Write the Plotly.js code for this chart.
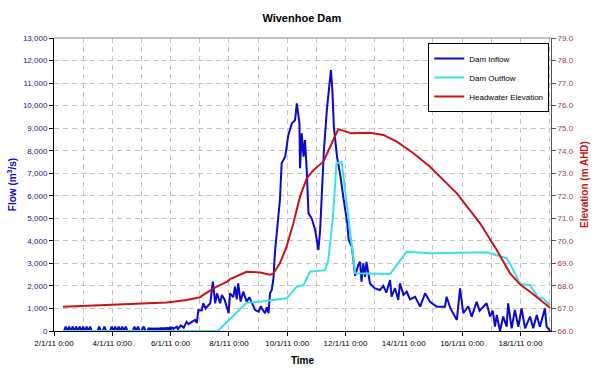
<!DOCTYPE html>
<html>
<head>
<meta charset="utf-8">
<script src="https://cdn.plot.ly/plotly-3.0.1.min.js"></script>
<style>html,body{margin:0;padding:0;background:#fff;}#chart{width:600px;height:373px;}</style>
</head>
<body>
<div id="chart"></div>
<script>
// Time values are in "day of January 2011" (e.g. 2.5 = 2/1/11 12:00)
const inflowDay = [
  2.31,2.34,2.40,2.46,2.52,2.58,2.64,2.70,2.76,2.82,2.88,2.94,3.00,3.06,3.12,3.18,3.24,3.30,3.36,
  3.49,3.55,3.61,3.67,3.73,3.79,
  3.92,3.98,4.04,4.10,4.16,4.22,4.28,4.34,4.40,4.46,4.52,4.58,
  4.70,4.76,4.82,4.88,4.94,5.00,5.08,5.14,5.20,
  5.26,5.30,5.34,5.38,5.42,5.46,5.50,5.54,5.58,5.62,5.66,5.70,5.74,5.78,5.82,5.86,5.90,5.94,5.98,6.02,6.06,
  6.10,6.21,6.25,6.35,6.45,6.55,6.62,6.70,6.84,6.90,6.95,7.07,7.12,7.20,7.36,7.45,7.53,7.59,7.70,7.76,7.85,
  7.99,8.04,8.15,8.21,8.27,8.32,8.40,8.49,8.61,8.70,8.90,9.02,9.10,9.13,9.24,9.30,9.36,9.41,9.47,9.53,9.58,
  9.70,9.75,9.81,9.93,10.04,10.16,10.27,10.33,10.42,10.44,10.50,10.56,10.61,10.67,10.73,10.84,10.96,11.07,
  11.13,11.18,11.26,11.36,11.41,11.50,11.55,11.60,11.71,11.83,11.94,12.06,12.11,12.22,12.33,12.44,12.50,
  12.55,12.61,12.67,12.72,12.84,13.01,13.18,13.30,13.40,13.53,13.58,13.70,13.81,13.87,13.99,14.10,14.21,
  14.39,14.56,14.73,14.90,15.13,15.41,15.47,15.60,15.82,15.93,16.04,16.21,16.33,16.50,16.60,16.84,16.96,
  17.05,17.13,17.19,17.30,17.41,17.53,17.58,17.70,17.81,17.93,18.04,18.16,18.33,18.44,18.56,18.67,18.84,
  18.90,19.02
];
const inflowVal = [
  0,0,200,0,200,0,200,0,200,0,200,0,200,0,200,0,200,0,0,
  0,200,0,0,200,0,
  0,200,0,200,0,200,0,200,0,200,0,0,
  0,200,0,200,0,0,200,0,0,
  140,40,140,40,140,40,140,40,140,40,150,50,150,50,150,60,160,60,150,70,180,
  100,190,80,250,150,410,300,380,490,350,930,910,1230,1000,1230,2190,1230,1670,1230,1600,1400,
  790,1670,1500,1965,1400,2115,1300,1745,1300,1500,930,860,1100,1000,790,1050,790,1670,1820,2350,3500,
  4920,5810,7440,7730,8700,9210,9360,10100,9210,7220,8770,7730,8470,7140,5220,5000,4480,3590,
  4480,5810,8030,9800,10390,11580,10690,9060,7730,6840,5810,4800,4040,3740,2450,2930,3070,
  2190,3000,2400,3070,2110,1890,1820,2000,1700,2260,1520,1900,1380,2110,1600,1750,1400,
  1520,1080,1670,1300,1080,1080,1520,1000,490,1890,790,1100,640,1300,900,1230,640,
  900,190,710,0,640,190,1230,120,930,190,1000,120,640,120,710,190,1000,
  190,0
];

const outflowDay = [2.31,7.62,8.61,9.07,9.98,10.33,10.56,10.78,11.30,11.41,11.57,11.69,11.87,11.98,12.15,12.33,
  13.53,14.10,14.90,16.84,17.30,17.53,17.64,17.99,18.33,18.60,18.78,19.02];
const outflowVal = [0,0,1255,1300,1450,1965,2040,2630,2700,3150,5070,7440,7500,6260,4330,2560,
  2530,3520,3450,3490,3320,3225,3000,2080,2040,1495,1450,1150];

const elevDay = [2.31,3.58,5.87,6.55,7.01,7.12,7.58,7.93,8.04,8.61,8.72,9.07,9.41,9.52,9.75,9.98,10.21,10.44,
  10.67,10.90,11.24,11.47,11.75,11.92,12.20,12.84,13.30,13.76,14.32,14.90,15.82,16.61,17.19,17.64,17.99,
  18.33,18.67,19.02];
const elevVal = [67.08,67.15,67.26,67.38,67.50,67.60,67.97,68.18,68.30,68.63,68.63,68.60,68.50,68.54,69.00,69.74,
  70.78,71.96,72.77,73.14,73.51,74.18,74.95,74.89,74.77,74.80,74.70,74.40,73.90,73.29,72.11,70.79,69.59,
  68.57,68.06,67.74,67.38,67.03];

const seriesNames = ['Dam Inflow','Dam Outflow','Headwater Elevation'];
const xRangeDays = [2.0, 19.05];

function toDate(d){
  const ms = Date.UTC(2011,0,1) + (d-1)*864e5;
  return new Date(ms).toISOString().replace('T',' ').slice(0,19);
}

const FONT = 'Liberation Sans, Arial, sans-serif';
const gridC = '#c4c4c4';

const traces = [
  {x: inflowDay.map(toDate), y: inflowVal, name: seriesNames[0], type:'scatter', mode:'lines',
   line:{color:'#0a0ac8', width:2}},
  {x: outflowDay.map(toDate), y: outflowVal, name: seriesNames[1], type:'scatter', mode:'lines',
   line:{color:'#3ce0e8', width:2}},
  {x: elevDay.map(toDate), y: elevVal, name: seriesNames[2], type:'scatter', mode:'lines', yaxis:'y2',
   line:{color:'#c81414', width:2}}
];

const layout = {
  width:600, height:373,
  margin:{l:54, r:49, t:38, b:42},
  paper_bgcolor:'#fff', plot_bgcolor:'#fff',
  font:{family:FONT, size:8, color:'#000'},
  title:{text:'<b>Wivenhoe Dam</b>', font:{family:FONT, size:11, color:'#000'},
         x:0.503, xanchor:'center', y:0.952, yanchor:'middle'},
  showlegend:true,
  legend:{x:0.753, y:0.983, xanchor:'left', yanchor:'top', bgcolor:'#fff',
          bordercolor:'#000', borderwidth:1, font:{family:FONT, size:8, color:'#000'},
          tracegroupgap:0, itemwidth:30},
  xaxis:{type:'date', range:xRangeDays.map(toDate), tick0:'2011-01-02', dtick:2*864e5,
         tickformat:'%-d/%-m/%y %-H:%M', tickfont:{family:FONT, size:8, color:'#000'},
         showgrid:true, gridcolor:gridC, griddash:'5px,4px', gridwidth:1,
         minor:{dtick:864e5, showgrid:true, gridcolor:gridC, griddash:'5px,4px', gridwidth:1, ticks:''},
         showline:true, linecolor:'#000', linewidth:1, ticks:'outside', ticklen:4, tickcolor:'#000',
         zeroline:false,
         title:{text:'<b>Time</b>', font:{family:FONT, size:10, color:'#000'}, standoff:10}},
  yaxis:{range:[0,13000], dtick:1000, tickformat:',d', tickfont:{family:FONT, size:8, color:'#1a1a70'},
         showgrid:true, gridcolor:gridC, griddash:'5px,4px', gridwidth:1, zeroline:false,
         showline:true, linecolor:'#000', linewidth:1, ticks:'outside', ticklen:4, tickcolor:'#000',
         title:{text:'<b>Flow (m<sup>3</sup>/s)</b>', font:{family:FONT, size:10, color:'#0a0ac8'}, standoff:4}},
  yaxis2:{overlaying:'y', side:'right', range:[66,79], dtick:1, tickformat:'.1f',
          tickfont:{family:FONT, size:8, color:'#a03c3c'}, showgrid:false, zeroline:false,
          showline:true, linecolor:'#555', linewidth:1, ticks:'outside', ticklen:4, tickcolor:'#555',
          title:{text:'<b>Elevation (m AHD)</b>', font:{family:FONT, size:10, color:'#c81414'}, standoff:8}},
  shapes:[{type:'line', xref:'paper', yref:'paper', x0:0, x1:1, y0:1, y1:1, line:{color:'#888', width:1}}]
};

Plotly.newPlot('chart', traces, layout, {staticPlot:true, displayModeBar:false});
</script>
</body>
</html>
